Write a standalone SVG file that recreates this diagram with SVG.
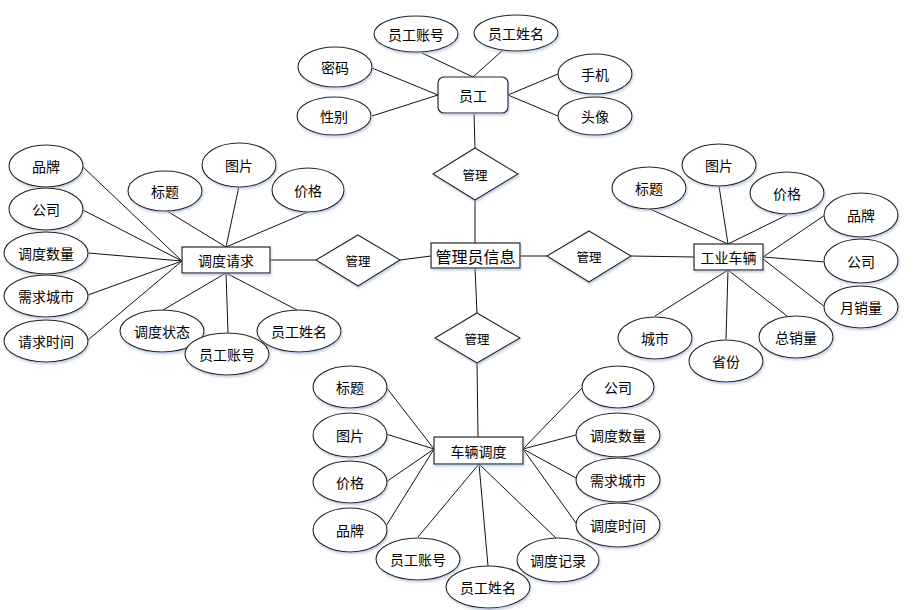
<svg xmlns="http://www.w3.org/2000/svg" width="916" height="610" viewBox="0 0 916 610">
<style>
.e{fill:#fff;stroke:#222;stroke-width:1.1}
.b{fill:#fff;stroke:#222;stroke-width:1.2}
.d{fill:#fff;stroke:#222;stroke-width:1.1}
.t{font-family:"Noto Sans CJK SC","Microsoft YaHei",sans-serif;font-size:14px;fill:#000;text-anchor:middle;dominant-baseline:central}
.s{font-size:12.5px}
.l{font-size:16px}
#conn line{stroke:#111;stroke-width:1}
</style>
<defs>
<filter id="sh" x="-20%" y="-20%" width="140%" height="150%">
<feDropShadow dx="1" dy="2" stdDeviation="1.2" flood-color="#9fb4d0" flood-opacity="0.6"/>
</filter>
</defs>
<rect width="916" height="610" fill="#fff"/>
<g id="conn">
<!-- 员工 -->
<line x1="422" y1="53" x2="473" y2="77"/>
<line x1="503" y1="50" x2="473" y2="77"/>
<line x1="372" y1="68" x2="438" y2="95"/>
<line x1="372" y1="116" x2="438" y2="95"/>
<line x1="558" y1="74" x2="508" y2="95"/>
<line x1="558" y1="116" x2="508" y2="95"/>
<line x1="474" y1="113" x2="475" y2="148"/>
<!-- center -->
<line x1="475" y1="200" x2="475" y2="243"/>
<line x1="400" y1="260" x2="431" y2="256"/>
<line x1="520" y1="256" x2="547" y2="256"/>
<line x1="475" y1="268" x2="477" y2="313"/>
<line x1="477" y1="363" x2="478" y2="437"/>
<line x1="270" y1="260" x2="316" y2="260"/>
<line x1="631" y1="256" x2="694" y2="257"/>
<!-- 调度请求 -->
<line x1="83" y1="167" x2="182" y2="261"/>
<line x1="83" y1="210" x2="182" y2="261"/>
<line x1="88" y1="253" x2="182" y2="261"/>
<line x1="88" y1="295" x2="182" y2="261"/>
<line x1="88" y1="340" x2="182" y2="261"/>
<line x1="167" y1="211" x2="226" y2="247"/>
<line x1="239" y1="186" x2="226" y2="247"/>
<line x1="308" y1="212" x2="226" y2="247"/>
<line x1="163" y1="310" x2="226" y2="273"/>
<line x1="228" y1="333" x2="226" y2="273"/>
<line x1="297" y1="310" x2="226" y2="273"/>
<!-- 工业车辆 -->
<line x1="650" y1="209" x2="728" y2="244"/>
<line x1="719" y1="186" x2="728" y2="244"/>
<line x1="787" y1="215" x2="728" y2="244"/>
<line x1="825" y1="215" x2="763" y2="257"/>
<line x1="825" y1="262" x2="763" y2="257"/>
<line x1="825" y1="307" x2="763" y2="259"/>
<line x1="655" y1="316" x2="728" y2="270"/>
<line x1="726" y1="339" x2="728" y2="270"/>
<line x1="787" y1="316" x2="728" y2="270"/>
<!-- 车辆调度 -->
<line x1="386" y1="387" x2="434" y2="449"/>
<line x1="386" y1="434" x2="434" y2="449"/>
<line x1="386" y1="482" x2="434" y2="449"/>
<line x1="386" y1="526" x2="434" y2="449"/>
<line x1="582" y1="388" x2="523" y2="449"/>
<line x1="576" y1="435" x2="523" y2="449"/>
<line x1="576" y1="478" x2="523" y2="449"/>
<line x1="576" y1="523" x2="523" y2="449"/>
<line x1="418" y1="537" x2="479" y2="464"/>
<line x1="488" y1="566" x2="479" y2="464"/>
<line x1="557" y1="539" x2="479" y2="464"/>
</g>

<!-- 员工 cluster -->
<g id="yuangong"><rect class="b" x="438" y="77" width="70" height="36" rx="6" filter="url(#sh)"/><text class="t" x="473" y="95">员工</text></g>
<g id="yg_zhanghao"><ellipse class="e" cx="416" cy="34" rx="42" ry="18" filter="url(#sh)"/><text class="t" x="416" y="34">员工账号</text></g>
<g id="yg_xingming"><ellipse class="e" cx="516" cy="33" rx="42" ry="18" filter="url(#sh)"/><text class="t" x="516" y="33">员工姓名</text></g>
<g id="yg_mima"><ellipse class="e" cx="335" cy="67" rx="37" ry="20" filter="url(#sh)"/><text class="t" x="335" y="67">密码</text></g>
<g id="yg_xingbie"><ellipse class="e" cx="334" cy="116" rx="37" ry="19" filter="url(#sh)"/><text class="t" x="334" y="116">性别</text></g>
<g id="yg_shouji"><ellipse class="e" cx="595" cy="74" rx="37" ry="20" filter="url(#sh)"/><text class="t" x="595" y="74">手机</text></g>
<g id="yg_touxiang"><ellipse class="e" cx="595" cy="116" rx="37" ry="19" filter="url(#sh)"/><text class="t" x="595" y="116">头像</text></g>

<!-- diamonds -->
<g id="rel_top"><polygon class="d" points="475,148 518,174 475,200 433,174" filter="url(#sh)"/><text class="t s" x="475" y="174">管理</text></g>
<g id="rel_left"><polygon class="d" points="358,235 400,260 358,286 316,260" filter="url(#sh)"/><text class="t s" x="358" y="260">管理</text></g>
<g id="rel_right"><polygon class="d" points="589,231 631,256 589,282 547,256" filter="url(#sh)"/><text class="t s" x="589" y="256">管理</text></g>
<g id="rel_bottom"><polygon class="d" points="477,313 520,338 477,363 435,338" filter="url(#sh)"/><text class="t s" x="477" y="338">管理</text></g>

<!-- center -->
<g id="admin"><rect class="b" x="431" y="243" width="89" height="25" filter="url(#sh)"/><text class="t l" x="475.5" y="255.5">管理员信息</text></g>

<!-- 调度请求 cluster -->
<g id="ddqq"><rect class="b" x="182" y="247" width="88" height="26" filter="url(#sh)"/><text class="t" x="226" y="260">调度请求</text></g>
<g id="q_pinpai"><ellipse class="e" cx="46" cy="166" rx="37" ry="21" filter="url(#sh)"/><text class="t" x="46" y="166">品牌</text></g>
<g id="q_gongsi"><ellipse class="e" cx="46" cy="209" rx="37" ry="21" filter="url(#sh)"/><text class="t" x="46" y="209">公司</text></g>
<g id="q_ddsl"><ellipse class="e" cx="46" cy="253" rx="42" ry="21" filter="url(#sh)"/><text class="t" x="46" y="253">调度数量</text></g>
<g id="q_xqcs"><ellipse class="e" cx="46" cy="296" rx="42" ry="21" filter="url(#sh)"/><text class="t" x="46" y="296">需求城市</text></g>
<g id="q_qqsj"><ellipse class="e" cx="46" cy="341" rx="42" ry="21" filter="url(#sh)"/><text class="t" x="46" y="341">请求时间</text></g>
<g id="q_biaoti"><ellipse class="e" cx="165" cy="191" rx="37" ry="20" filter="url(#sh)"/><text class="t" x="165" y="191">标题</text></g>
<g id="q_tupian"><ellipse class="e" cx="239" cy="165" rx="37" ry="22" filter="url(#sh)"/><text class="t" x="239" y="165">图片</text></g>
<g id="q_jiage"><ellipse class="e" cx="308" cy="190" rx="36" ry="22" filter="url(#sh)"/><text class="t" x="308" y="190">价格</text></g>
<g id="q_ddzt"><ellipse class="e" cx="162" cy="331" rx="42" ry="21" filter="url(#sh)"/><text class="t" x="162" y="331">调度状态</text></g>
<g id="q_xingming"><ellipse class="e" cx="299" cy="331" rx="42" ry="21" filter="url(#sh)"/><text class="t" x="299" y="331">员工姓名</text></g>
<g id="q_zhanghao"><ellipse class="e" cx="227" cy="354" rx="42" ry="21" filter="url(#sh)"/><text class="t" x="227" y="354">员工账号</text></g>

<!-- 工业车辆 cluster -->
<g id="gycl"><rect class="b" x="694" y="244" width="69" height="26" filter="url(#sh)"/><text class="t" x="728.5" y="257">工业车辆</text></g>
<g id="c_biaoti"><ellipse class="e" cx="649" cy="188" rx="37" ry="21" filter="url(#sh)"/><text class="t" x="649" y="188">标题</text></g>
<g id="c_tupian"><ellipse class="e" cx="719" cy="165" rx="37" ry="21" filter="url(#sh)"/><text class="t" x="719" y="165">图片</text></g>
<g id="c_jiage"><ellipse class="e" cx="787" cy="193" rx="37" ry="21" filter="url(#sh)"/><text class="t" x="787" y="193">价格</text></g>
<g id="c_pinpai"><ellipse class="e" cx="861" cy="215" rx="37" ry="22" filter="url(#sh)"/><text class="t" x="861" y="215">品牌</text></g>
<g id="c_gongsi"><ellipse class="e" cx="861" cy="261" rx="37" ry="22" filter="url(#sh)"/><text class="t" x="861" y="261">公司</text></g>
<g id="c_yxl"><ellipse class="e" cx="861" cy="307" rx="37" ry="21" filter="url(#sh)"/><text class="t" x="861" y="307">月销量</text></g>
<g id="c_chengshi"><ellipse class="e" cx="655" cy="338" rx="37" ry="21" filter="url(#sh)"/><text class="t" x="655" y="338">城市</text></g>
<g id="c_zxl"><ellipse class="e" cx="796" cy="337" rx="37" ry="21" filter="url(#sh)"/><text class="t" x="796" y="337">总销量</text></g>
<g id="c_shengfen"><ellipse class="e" cx="726" cy="361" rx="37" ry="21" filter="url(#sh)"/><text class="t" x="726" y="361">省份</text></g>

<!-- 车辆调度 cluster -->
<g id="clddu"><rect class="b" x="434" y="437" width="89" height="27" filter="url(#sh)"/><text class="t" x="478.5" y="450.5">车辆调度</text></g>
<g id="d_biaoti"><ellipse class="e" cx="350" cy="387" rx="37" ry="21" filter="url(#sh)"/><text class="t" x="350" y="387">标题</text></g>
<g id="d_tupian"><ellipse class="e" cx="350" cy="435" rx="37" ry="22" filter="url(#sh)"/><text class="t" x="350" y="435">图片</text></g>
<g id="d_jiage"><ellipse class="e" cx="350" cy="482" rx="37" ry="21" filter="url(#sh)"/><text class="t" x="350" y="482">价格</text></g>
<g id="d_pinpai"><ellipse class="e" cx="350" cy="530" rx="37" ry="22" filter="url(#sh)"/><text class="t" x="350" y="530">品牌</text></g>
<g id="d_zhanghao"><ellipse class="e" cx="418" cy="559" rx="42" ry="21" filter="url(#sh)"/><text class="t" x="418" y="559">员工账号</text></g>
<g id="d_ddjl"><ellipse class="e" cx="558" cy="560" rx="41" ry="22" filter="url(#sh)"/><text class="t" x="558" y="560">调度记录</text></g>
<g id="d_xingming"><ellipse class="e" cx="488" cy="587" rx="42" ry="21" filter="url(#sh)"/><text class="t" x="488" y="587">员工姓名</text></g>
<g id="d_gongsi"><ellipse class="e" cx="618" cy="387" rx="36" ry="21" filter="url(#sh)"/><text class="t" x="618" y="387">公司</text></g>
<g id="d_ddsl"><ellipse class="e" cx="618" cy="435" rx="42" ry="22" filter="url(#sh)"/><text class="t" x="618" y="435">调度数量</text></g>
<g id="d_xqcs"><ellipse class="e" cx="618" cy="480" rx="42" ry="22" filter="url(#sh)"/><text class="t" x="618" y="480">需求城市</text></g>
<g id="d_ddsj"><ellipse class="e" cx="618" cy="525" rx="42" ry="22" filter="url(#sh)"/><text class="t" x="618" y="525">调度时间</text></g>
</svg>
